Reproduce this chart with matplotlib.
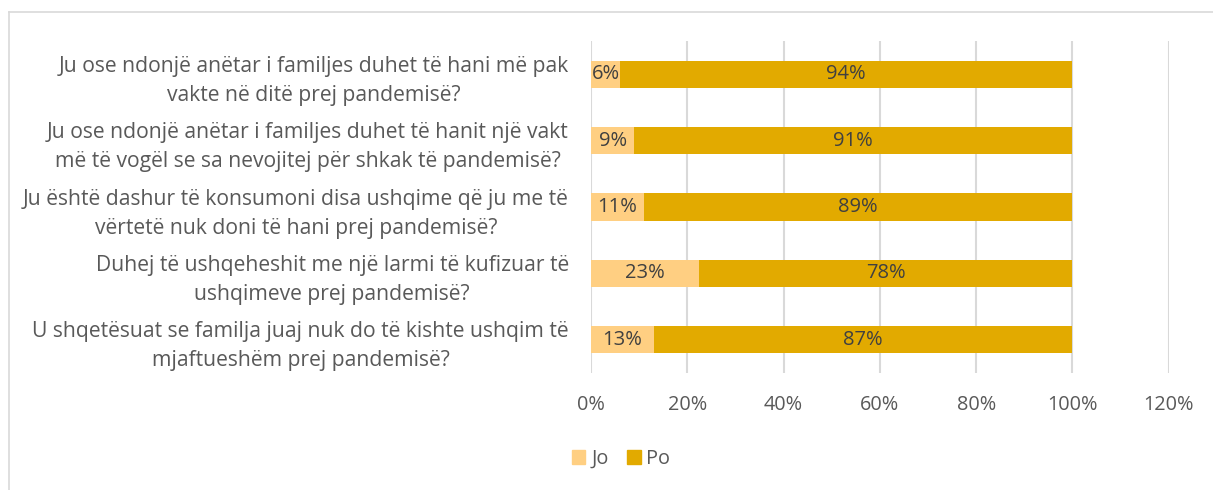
import matplotlib
matplotlib.use("Agg")
import matplotlib.pyplot as plt
from matplotlib.lines import Line2D
from matplotlib.patches import Patch
import numpy as np

categories = [
    "Ju ose ndonjë anëtar i familjes duhet të hani më pak\nvakte në ditë prej pandemisë?",
    "Ju ose ndonjë anëtar i familjes duhet të hanit një vakt\nmë të vogël se sa nevojitej për shkak të pandemisë?",
    "Ju është dashur të konsumoni disa ushqime që ju me të\nvërtetë nuk doni të hani prej pandemisë?",
    "Duhej të ushqeheshit me një larmi të kufizuar të\nushqimeve prej pandemisë?",
    "U shqetësuat se familja juaj nuk do të kishte ushqim të\nmjaftueshëm prej pandemisë?",
]
jo_values = [6, 9, 11, 22.5, 13]
po_values = [94, 91, 89, 77.5, 87]
jo_labels = ["6%", "9%", "11%", "23%", "13%"]
po_labels = ["94%", "91%", "89%", "78%", "87%"]
xticks = [0, 20, 40, 60, 80, 100, 120]
xtick_labels = ["0%", "20%", "40%", "60%", "80%", "100%", "120%"]
series_names = ["Jo", "Po"]

JO_COLOR = "#FFCF82"
PO_COLOR = "#E2AA00"
TEXT = "#595959"
LABEL = "#404040"
GRID = "#D9D9D9"
FONT = ["Open Sans", "DejaVu Sans"]
plt.rcParams["font.family"] = FONT

W, H = 1213, 490
fig = plt.figure(figsize=(W / 100, H / 100), dpi=100)
ax = fig.add_axes([591 / W, 1 - 373 / H, (1168.7 - 591) / W, (373 - 41) / H])

y = np.arange(len(categories))
h = 0.41
ax.barh(y, jo_values, height=h, color=JO_COLOR, zorder=3)
ax.barh(y, po_values, left=jo_values, height=h, color=PO_COLOR, zorder=3)

for i in range(len(categories)):
    ax.text(jo_values[i] / 2, y[i], jo_labels[i], ha="center", va="center",
            fontsize=14.5, color=LABEL, zorder=4)
    ax.text(jo_values[i] + po_values[i] / 2, y[i], po_labels[i], ha="center",
            va="center", fontsize=14.5, color=LABEL, zorder=4)

ax.set_xlim(0, 120)
ax.set_ylim(len(categories) - 0.5, -0.5)
ax.set_xticks(xticks)
ax.set_xticklabels(xtick_labels, fontsize=14.3, color=TEXT)
ax.set_yticks(y)
ax.set_yticklabels(categories, fontsize=15.2, color=TEXT, multialignment="center",
                   linespacing=1.5)
ax.tick_params(axis="x", length=0, pad=16)
ax.tick_params(axis="y", length=0, pad=16)
ax.grid(axis="x", color=GRID, linewidth=1.5, zorder=0)
for s in ax.spines.values():
    s.set_visible(False)

handles = [Patch(color=JO_COLOR), Patch(color=PO_COLOR)]
fig.legend(handles, series_names, loc="center", bbox_to_anchor=(621 / W, 1 - 459 / H),
           ncol=2, frameon=False, fontsize=14.3, labelcolor=TEXT,
           handlelength=0.7, handleheight=0.7, handletextpad=0.3, columnspacing=0.9)

# chart frame
fig.add_artist(Line2D([9 / W, 9 / W], [0, 1 - 12 / H], transform=fig.transFigure,
                      color=GRID, linewidth=1.2))
fig.add_artist(Line2D([9 / W, 1], [1 - 12 / H, 1 - 12 / H], transform=fig.transFigure,
                      color=GRID, linewidth=1.2))

fig.savefig("out.png", dpi=100, facecolor="white")
